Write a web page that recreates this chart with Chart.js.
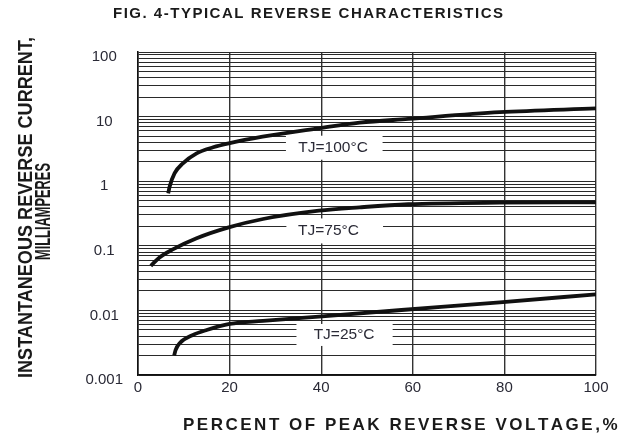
<!DOCTYPE html>
<html>
<head>
<meta charset="utf-8">
<script src="https://cdn.jsdelivr.net/npm/chart.js@4/dist/chart.umd.min.js"></script>
<style>
  html, body { margin: 0; padding: 0; background: #fff; }
  #wrap { width: 624px; height: 437px; position: relative; }
</style>
</head>
<body>
<div id="wrap"><canvas id="c" width="624" height="437"></canvas></div>
<script>
// ---- Data ----
const chartTitle = 'FIG. 4-TYPICAL REVERSE CHARACTERISTICS';
const xAxisTitle = 'PERCENT OF PEAK REVERSE VOLTAGE,%';
const yAxisTitleLines = ['INSTANTANEOUS REVERSE CURRENT,', 'MILLIAMPERES'];
const xTickLabels = [0, 20, 40, 60, 80, 100];
const yTickLabels = ['0.001', '0.01', '0.1', '1', '10', '100'];
const seriesNames = ['TJ=100\u00B0C', 'TJ=75\u00B0C', 'TJ=25\u00B0C'];

const voltage100 = [6.6, 6.9, 8.0, 9.8, 12.8, 16.4, 19.8, 27.2, 39.5, 48.4, 59.0, 79.0, 100];
const current100 = [0.65, 0.82, 1.33, 1.89, 2.70, 3.35, 3.86, 4.89, 6.59, 8.05, 9.2, 11.7, 13.4];

const voltage75 = [2.8, 4.7, 7.6, 12.8, 19.8, 27.3, 39.5, 48.4, 59.0, 79.0, 100];
const current75 = [0.049, 0.066, 0.088, 0.131, 0.193, 0.26, 0.349, 0.394, 0.44, 0.465, 0.47];

const voltage25 = [7.9, 8.2, 9.1, 12.0, 15.0, 20.0, 27.3, 39.5, 59.0, 79.0, 100];
const current25 = [0.00200, 0.00242, 0.0031, 0.00416, 0.00497, 0.00616, 0.00686, 0.00804, 0.01033, 0.01334, 0.01775];

// label annotations: text centre in data units, white box extent in data units (x) / pixels (height)
const curveLabels = [
  { text: seriesNames[0], x: 42.6, y: 3.42, x0: 32.3, x1: 53.4, h: 24 },
  { text: seriesNames[1], x: 41.6, y: 0.176, x0: 32.4, x1: 53.5, h: 25 },
  { text: seriesNames[2], x: 45.0, y: 0.00432, x0: 34.6, x1: 55.6, h: 22 }
];

const FONT = "'Liberation Sans', Arial, Helvetica, sans-serif";

function toPoints(xs, ys) { return xs.map((x, i) => ({ x: x, y: ys[i] })); }

function lineDs(label, xs, ys) {
  return {
    label: label,
    data: toPoints(xs, ys),
    borderColor: '#111',
    borderWidth: 3.8,
    pointRadius: 0,
    fill: false,
    cubicInterpolationMode: 'monotone',
    borderCapStyle: 'butt'
  };
}

function drawSpaced(ctx, text, cx, y, targetWidth) {
  const chars = text.split('');
  const natural = ctx.measureText(text).width;
  const gap = chars.length > 1 ? (targetWidth - natural) / (chars.length - 1) : 0;
  let x = cx - targetWidth / 2;
  ctx.textAlign = 'left';
  for (const ch of chars) {
    ctx.fillText(ch, x, y);
    x += ctx.measureText(ch).width + gap;
  }
}

const labelPlugin = {
  id: 'curveLabels',
  beforeDatasetsDraw(chart) {
    const ctx = chart.ctx;
    const xs = chart.scales.x, ys = chart.scales.y;
    ctx.save();
    for (const l of curveLabels) {
      const px0 = xs.getPixelForValue(l.x0), px1 = xs.getPixelForValue(l.x1);
      const cy = ys.getPixelForValue(l.y);
      ctx.fillStyle = '#fff';
      ctx.fillRect(px0, cy - l.h / 2 + 1, px1 - px0, l.h);
      ctx.fillStyle = '#2a2a36';
      ctx.font = '15.5px ' + FONT;
      ctx.textBaseline = 'middle';
      ctx.textAlign = 'center';
      ctx.fillText(l.text, xs.getPixelForValue(l.x), cy + 1);
    }
    ctx.restore();
  }
};

const titlePlugin = {
  id: 'titles',
  afterDraw(chart) {
    const ctx = chart.ctx;
    ctx.save();
    ctx.fillStyle = '#1a1a1a';
    ctx.textBaseline = 'middle';
    ctx.font = 'bold 15px ' + FONT;
    drawSpaced(ctx, chartTitle, 308, 14, 390);
    ctx.font = 'bold 17px ' + FONT;
    drawSpaced(ctx, xAxisTitle, 399, 425, 432);

    // rotated y title, condensed to fit
    const lines = [
      { t: yAxisTitleLines[0], bx: 32, cy: 207.5, w: 341, size: 21 },
      { t: yAxisTitleLines[1], bx: 50, cy: 211.5, w: 97, size: 22 }
    ];
    ctx.textBaseline = 'alphabetic';
    ctx.textAlign = 'center';
    for (const ln of lines) {
      ctx.font = 'bold ' + ln.size + 'px ' + FONT;
      const nat = ctx.measureText(ln.t).width;
      ctx.save();
      ctx.translate(ln.bx, ln.cy);
      ctx.rotate(-Math.PI / 2);
      ctx.scale(ln.w / nat, 1);
      ctx.fillText(ln.t, 0, 0);
      ctx.restore();
    }
    ctx.restore();
  }
};

new Chart(document.getElementById('c'), {
  type: 'line',
  data: {
    datasets: [
      lineDs(seriesNames[0], voltage100, current100),
      lineDs(seriesNames[1], voltage75, current75),
      lineDs(seriesNames[2], voltage25, current25)
    ]
  },
  options: {
    responsive: false,
    animation: false,
    devicePixelRatio: 1,
    layout: { padding: { left: 0, top: 52, right: 28, bottom: 0 } },
    plugins: { legend: { display: false }, title: { display: false }, tooltip: { enabled: false } },
    scales: {
      x: {
        type: 'linear',
        min: 0, max: 100,
        afterFit(s) { s.height = 62; },
        afterBuildTicks(s) { s.ticks = xTickLabels.map(v => ({ value: v })); },
        ticks: { color: '#2a2a36', font: { family: FONT, size: 15 }, padding: 4, maxRotation: 0 },
        grid: { color: '#333', lineWidth: 1.4, drawTicks: false },
        border: { color: '#111', width: 1.6 }
      },
      y: {
        type: 'logarithmic',
        min: 0.001, max: 100,
        afterFit(s) { s.width = 138; },
        afterBuildTicks(s) {
          const t = [];
          for (let e = -3; e <= 1; e++) {
            for (let m = 1; m <= 9; m++) t.push({ value: +(m * Math.pow(10, e)).toPrecision(3) });
          }
          t.push({ value: 100 });
          s.ticks = t;
        },
        ticks: {
          color: '#2a2a36',
          font: { family: FONT, size: 15 },
          padding: 15,
          crossAlign: 'center',
          labelOffset: 5,
          autoSkip: false,
          callback(v) {
            const e = Math.log10(v);
            if (Math.abs(e - Math.round(e)) < 1e-9) {
              return yTickLabels[Math.round(e) + 3];
            }
            return '';
          }
        },
        grid: { color: '#2a2a2a', lineWidth: 1, drawTicks: false },
        border: { color: '#111', width: 1.6 }
      }
    }
  },
  plugins: [labelPlugin, titlePlugin]
});
</script>
</body>
</html>
